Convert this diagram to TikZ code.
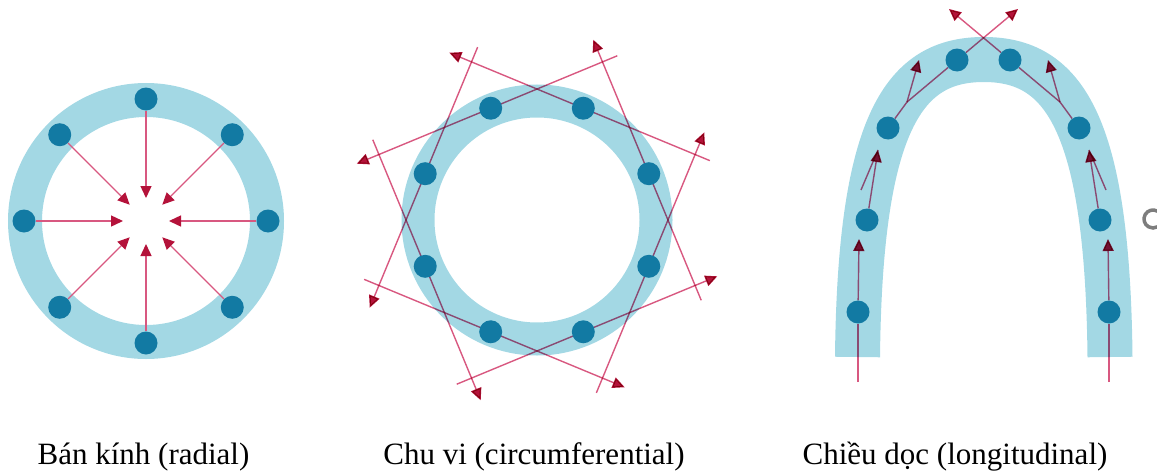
\documentclass[tikz,border=0pt]{standalone}
\usepackage{fontspec}
\setmainfont{Liberation Serif}
\usetikzlibrary{arrows.meta,calc}
\definecolor{ringc}{RGB}{163,216,228}
\definecolor{dotc}{RGB}{18,122,163}
\definecolor{pinkl}{RGB}{216,88,128}
\definecolor{tipc}{RGB}{180,18,58}
\definecolor{greyc}{RGB}{125,125,125}
\pgfdeclarelayer{back}
\pgfdeclarelayer{mid}
\pgfsetlayers{back,mid,main}
\tikzset{
 dotn/.style={circle,fill=dotc,draw=none,inner sep=0pt,minimum size=23pt},
 pl/.style={draw=pinkl,line width=1.4pt},
 ar/.style={pl,-{Triangle[length=12pt,width=11pt,color=tipc]}},
 lab/.style={font=\fontsize{31}{36}\selectfont,anchor=base,inner sep=0pt}
}
\begin{document}
\begin{tikzpicture}[x=1pt,y=-1pt]
\useasboundingbox (0,0) rectangle (1157,471);
% ---------- radial ----------
\begin{pgfonlayer}{back}
\draw[draw=ringc,line width=34pt] (146,221) circle[radius=121pt];
\end{pgfonlayer}
\foreach \i in {0,...,7}{
  \pgfmathsetmacro\a{45*\i}
  \pgfmathsetmacro\px{146+122*cos(\a)}
  \pgfmathsetmacro\py{221-122*sin(\a)}
  \pgfmathsetmacro\tx{146+23*cos(\a)}
  \pgfmathsetmacro\ty{221-23*sin(\a)}
  \node[dotn] (r\i) at (\px,\py) {};
  \coordinate (rt\i) at (\tx,\ty);
  \begin{pgfonlayer}{mid}
  \draw[ar] (r\i) -- (rt\i);
  \end{pgfonlayer}
}
% ---------- circumferential ----------
\begin{pgfonlayer}{back}
\draw[draw=ringc,line width=33pt] (537,220) circle[radius=119pt];
\end{pgfonlayer}
\foreach \i in {0,...,7}{
  \pgfmathsetmacro\a{22.5+45*\i}
  \pgfmathsetmacro\px{537+121*cos(\a)}
  \pgfmathsetmacro\py{220-121*sin(\a)}
  \pgfmathsetmacro\ax{\px-145*sin(\a)}
  \pgfmathsetmacro\ay{\py-145*cos(\a)}
  \pgfmathsetmacro\bx{\px+137*sin(\a)}
  \pgfmathsetmacro\by{\py+137*cos(\a)}
  \node[dotn] (c\i) at (\px,\py) {};
  \coordinate (ca\i) at (\ax,\ay);
  \coordinate (cb\i) at (\bx,\by);
  \begin{pgfonlayer}{mid}
  \draw[ar,blend mode=multiply] (cb\i) -- (ca\i);
  \end{pgfonlayer}
}
% ---------- longitudinal ----------
\begin{pgfonlayer}{back}
\draw[draw=ringc,line width=45pt] (857.5,357) .. controls (860,120) and (905,59.5) .. (983.75,59.5)
   .. controls (1062.5,59.5) and (1107.5,120) .. (1110,357);
\end{pgfonlayer}
\node[dotn] (L1) at (858,312) {};
\node[dotn] (L2) at (867,220) {};
\node[dotn] (L3) at (888,128) {};
\node[dotn] (L4) at (957,60) {};
\node[dotn] (L5) at (1010,60) {};
\node[dotn] (L6) at (1079,128) {};
\node[dotn] (L7) at (1100,220) {};
\node[dotn] (L8) at (1109,312) {};
\coordinate (lb1) at (858,382);
\coordinate (lt1) at (859,239);
\coordinate (lq2) at (861,190);
\coordinate (lt2) at (878,150);
\coordinate (lj3) at (907,102);
\coordinate (lt3) at (919,60);
\coordinate (tt1) at (1018,9);
\coordinate (tt2) at (949,9);
\coordinate (rj3) at (1060,102);
\coordinate (rt3) at (1048,60);
\coordinate (rq2) at (1106,190);
\coordinate (rt2) at (1089,150);
\coordinate (rt1) at (1108,239);
\coordinate (rb1) at (1109,382);
\begin{pgfonlayer}{mid}
\begin{scope}[blend mode=multiply]
\draw[pl] (lb1) -- (L1);
\draw[ar] (L1) -- (lt1);
\draw[ar] (L2) -- (lt2);
\draw[pl] (lq2) -- (lt2);
\draw[pl] (L3) -- (lj3);
\draw[ar] (lj3) -- (lt3);
\draw[pl] (lj3) -- (L4);
\draw[ar] (L4) -- (tt1);
\draw[ar] (L5) -- (tt2);
\draw[pl] (L5) -- (rj3);
\draw[ar] (rj3) -- (rt3);
\draw[pl] (rj3) -- (L6);
\draw[ar] (L7) -- (rt2);
\draw[pl] (rq2) -- (rt2);
\draw[ar] (L8) -- (rt1);
\draw[pl] (rb1) -- (L8);
\end{scope}
\end{pgfonlayer}
% grey fragment at right edge
\draw[greyc,line width=3.5pt] (1153,219) ++(60:9pt) arc[start angle=60,end angle=300,radius=9pt];
% ---------- labels ----------
\node[lab] (t1) at (143.5,464) {Bán kính (radial)};
\node[lab] (t2) at (534,464) {Chu vi (circumferential)};
\node[lab] (t3) at (955,464) {Chiều dọc (longitudinal)};
\end{tikzpicture}
\end{document}
